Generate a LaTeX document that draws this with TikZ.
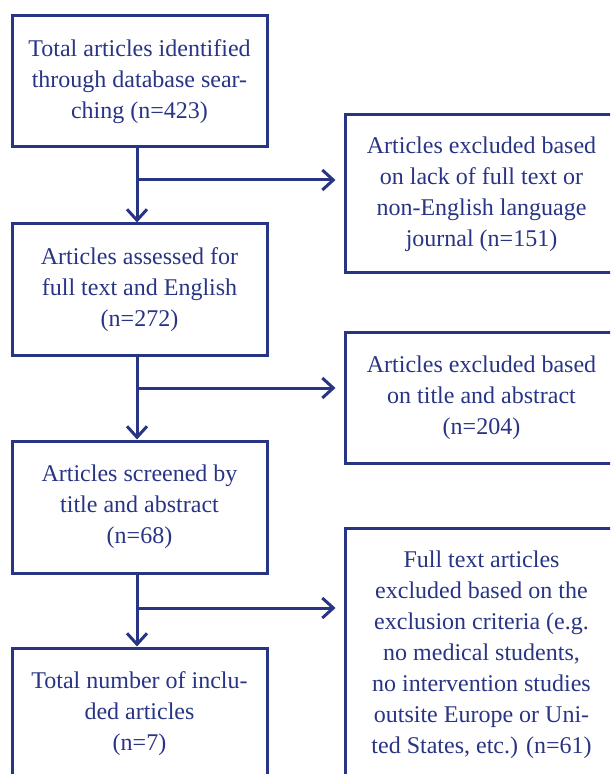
\documentclass[tikz,border=0pt]{standalone}
\usepackage{fontspec}
\setmainfont{Liberation Serif}
\usetikzlibrary{arrows.meta}
\definecolor{navy}{RGB}{40,52,132}
\tikzset{
  box/.style={draw=navy,line width=1.5pt,text=navy,align=center,inner sep=0pt,
    font=\fontsize{12}{15.5}\selectfont},
  arr/.style={draw=navy,line width=1.5pt,-{Straight Barb[length=5.5pt,width=10pt]}},
}
\begin{document}
\begin{tikzpicture}[x=0.5pt,y=-0.5pt]
\useasboundingbox (0,0) rectangle (610,774);
\clip (0,0) rectangle (610,774);
% left column
\node [box,minimum width=127.5pt,minimum height=65.5pt] (ident) at (139.5,81.5)
  {Total articles identified\\through database sear-\\ching (n=423)};
\node [box,minimum width=127.5pt,minimum height=65.5pt] (assess) at (139.5,289.5)
  {Articles assessed for\\full text and English\\(n=272)};
\node [box,minimum width=127.5pt,minimum height=66pt] (screen) at (139.5,507)
  {Articles screened by\\title and abstract\\(n=68)};
\node [box,minimum width=127.5pt,minimum height=66pt] (incl) at (139.5,714)
  {Total number of inclu-\\ded articles\\(n=7)};
% right column
\node [box,minimum width=136.5pt,minimum height=79pt] (excl1) at (481.5,194)
  {Articles excluded based\\on lack of full text or\\non-English language\\journal (n=151)};
\node [box,minimum width=136.5pt,minimum height=65pt] (excl2) at (481.5,398)
  {Articles excluded based\\on title and abstract\\(n=204)};
\node [box,minimum width=136.5pt,minimum height=127pt] (excl3) at (481.5,655)
  {Full text articles\\excluded based on the\\exclusion criteria (e.g.\\no medical students,\\no intervention studies\\outsite Europe or Uni-\\ted States, etc.) (n=61)};
% arrows
\coordinate (j1) at (137,180);
\coordinate (j2) at (137,388);
\coordinate (j3) at (137,608);
\draw [arr] (ident.south -| j1) -- (assess.north -| j1);
\draw [arr] (assess.south -| j2) -- (screen.north -| j2);
\draw [arr] (screen.south -| j3) -- (incl.north -| j3);
\draw [arr,shorten >=4pt] (j1) -- (j1 -| excl1.west);
\draw [arr,shorten >=4pt] (j2) -- (j2 -| excl2.west);
\draw [arr,shorten >=4pt] (j3) -- (j3 -| excl3.west);
\end{tikzpicture}
\end{document}
